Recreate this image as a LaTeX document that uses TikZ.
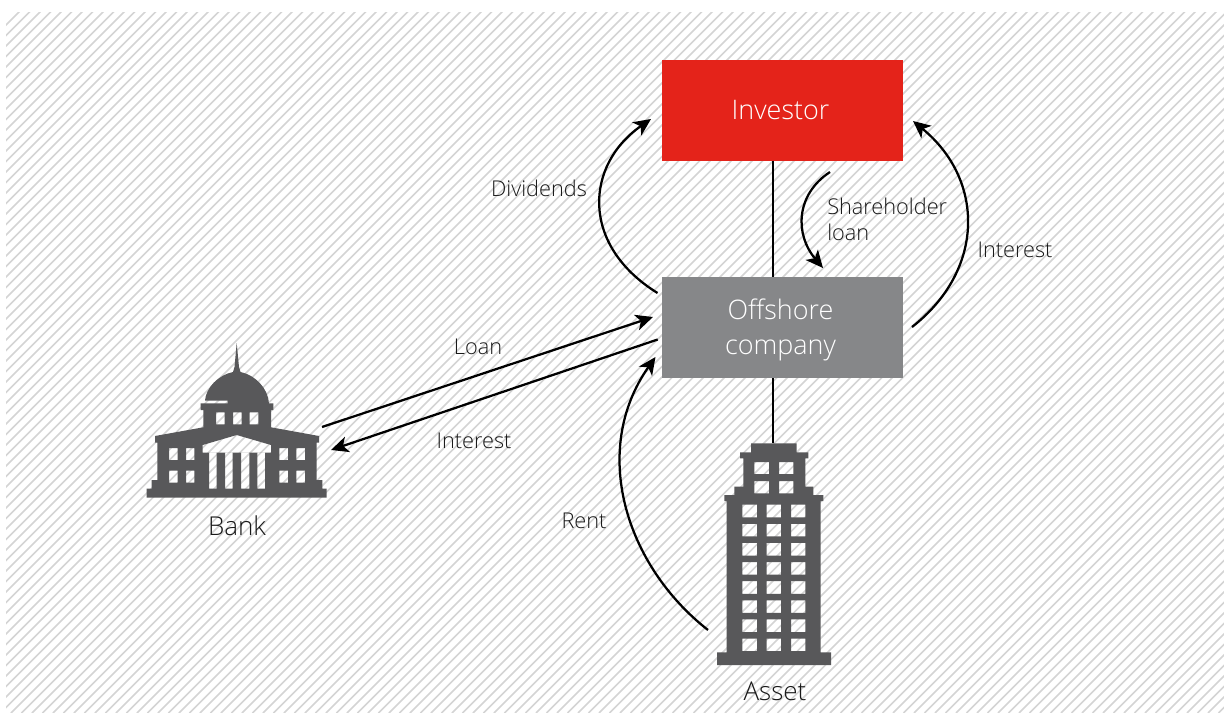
\documentclass[tikz,border=0pt]{standalone}
\usepackage{fontspec}
\setmainfont{Open Sans}[UprightFont=* Light]
\usetikzlibrary{arrows.meta}
\definecolor{hatch}{HTML}{D4D4D4}
\definecolor{dark}{HTML}{58585A}
\definecolor{redbox}{HTML}{E4231A}
\definecolor{greybox}{HTML}{868789}
\tikzset{
  boxlabel/.style={text=white,font=\fontsize{20.2}{26.3}\selectfont,align=center,inner sep=0pt,minimum width=180.75pt,minimum height=75.75pt},
  lab/.style={font=\fontsize{16.3}{19.5}\selectfont,align=left,inner sep=0pt,text=black!90},
  iconlab/.style={font=\fontsize{19.5}{23}\selectfont,inner sep=0pt,text=black!90},
  flow/.style={line width=1.7pt,-{Stealth[length=13pt,width=12pt,inset=3.5pt]}},
  link/.style={line width=2pt},
  bld/.style={fill=dark,even odd rule,draw=none}
}
\begin{document}
\begin{tikzpicture}[x=0.75pt,y=-0.75pt]
\useasboundingbox (0,0) rectangle (1224,713);
\fill[white] (0,0) rectangle (1224,713);
\begin{scope}
\clip (6,13) rectangle (1224,713);
\foreach \k in {0,...,185} {
  \draw[hatch,line width=1.1pt] ({\k*10.5+31-713},713) -- ({\k*10.5+31},0);
}
\end{scope}
% boxes
\node[fill=redbox,anchor=north west,boxlabel] (inv) at (662,60) {};
\node[fill=greybox,anchor=north west,boxlabel] (off) at (662,277) {};
\node[boxlabel,minimum width=0pt,minimum height=0pt] (invt) at (780.5,110) {Investor};
\node[boxlabel,minimum width=0pt,minimum height=0pt] (offt) at (780.5,330) {Offshore\\company};
% bank
\path[bld]
 (146.7,497.7) -- (326.7,497.7) -- (326.7,488.7) -- (322.3,488.7) -- (322.3,480) -- (316.7,480) -- (316.7,442.7)
 -- (319,442.7) -- (319,436) -- (271,427.3) -- (271,410) -- (273.3,410) -- (273.3,403.3) -- (269,403.3)
 .. controls (268,388) and (255,375) .. (240.5,372) -- (239,367) -- (236.7,343) -- (234.5,367) -- (233,372)
 .. controls (218,375) and (206,388) .. (205,400.5) -- (227.5,400.5) -- (227.5,403.3) -- (200.7,403.3) -- (200.7,410) -- (203.3,410) -- (203.3,427.3)
 -- (155,436) -- (155,442.7) -- (157.3,442.7) -- (157.3,480) -- (151.7,480) -- (151.7,488.7) -- (146.7,488.7) -- cycle
 % windows
 (169,448) rectangle (177.7,460) (186,448) rectangle (194.3,460)
 (169,470.7) rectangle (177.7,482.7) (186,470.7) rectangle (194.3,482.7)
 (279.3,448) rectangle (288,460) (296.3,448) rectangle (305,460)
 (279.3,470.7) rectangle (288,482.7) (296.3,470.7) rectangle (305,482.7)
 (216,412.3) rectangle (224.7,424.3) (233,412.3) rectangle (241.7,424.3) (249.7,412.3) rectangle (258.3,424.3)
 % portico
 (202.7,445) -- (236.7,435) -- (271,445) -- (271,452.7) -- (202.7,452.7) -- cycle
 (209,452.7) rectangle (216.7,488.7) (225,452.7) rectangle (232.7,488.7) (241,452.7) rectangle (249.3,488.7) (257.3,452.7) rectangle (265,488.7);
% tower
\path[bld]
 (717,665) -- (831,665) -- (831,652.3) -- (820.7,652.3) -- (820.7,501) -- (823.3,501) -- (823.3,495) -- (813.3,495) -- (813.3,486.7)
 -- (805.3,486.7) -- (805.3,458.3) -- (808.3,458.3) -- (808.3,452.3) -- (796.7,452.3) -- (796.7,443.3) -- (751,443.3) -- (751,452.3)
 -- (740,452.3) -- (740,458.3) -- (743.3,458.3) -- (743.3,486.7) -- (734.3,486.7) -- (734.3,495) -- (724.3,495) -- (724.3,501)
 -- (726.7,501) -- (726.7,652.3) -- (717,652.3) -- cycle
 (754.3,462) rectangle (769,474) (779,462) rectangle (793.3,474)
 (754.3,481) rectangle (769,493.3) (779,481) rectangle (793.3,493.3)
 \foreach \r in {0,...,7} {
   (742.3,{504.7+\r*19.13}) rectangle (757,{517.3+\r*19.13})
   (766.7,{504.7+\r*19.13}) rectangle (781,{517.3+\r*19.13})
   (791,{504.7+\r*19.13}) rectangle (805.3,{517.3+\r*19.13})
 };
\coordinate (bankA) at (322,427);
\coordinate (bankB) at (331,450);
\coordinate (offW1) at (653,317);
\coordinate (offW2) at (657.7,339.5);
\coordinate (offN) at (773,277);
\coordinate (offS) at (773,378);
\coordinate (invS) at (773,161);
\coordinate (towerT) at (773,443);
\coordinate (divS) at (657.5,293);
\coordinate (divE) at (651,119);
\coordinate (shS) at (830,172);
\coordinate (shE) at (823,268);
\coordinate (intS) at (912,327);
\coordinate (intE) at (913,121);
\coordinate (rentS) at (708,630);
\coordinate (rentE) at (655.5,357);
% links
\draw[link] (invS) -- (offN);
\draw[link] (offS) -- (towerT);
% flows
\draw[flow] (bankA) -- (offW1);
\draw[flow] (offW2) -- (bankB);
\draw[flow] (divS) .. controls (580,245) and (585,165) .. (divE);
\draw[flow] (shS) .. controls (795,195) and (795,235) .. (shE);
\draw[flow] (intS) .. controls (985,270) and (985,180) .. (intE);
\draw[flow] (rentS) .. controls (625,565) and (590,450) .. (rentE);
% labels
\node[lab] (l1) at (539,188) {Dividends};
\node[lab,anchor=west] (l3) at (827,219) {Shareholder\\loan};
\node[lab] (l4) at (1015,250) {Interest};
\node[lab] (l5) at (478,347) {Loan};
\node[lab] (l6) at (474,441) {Interest};
\node[lab] (l7) at (584,521) {Rent};
\node[iconlab] (l8) at (237,526) {Bank};
\node[iconlab] (l9) at (775,691) {Asset};
\end{tikzpicture}
\end{document}
